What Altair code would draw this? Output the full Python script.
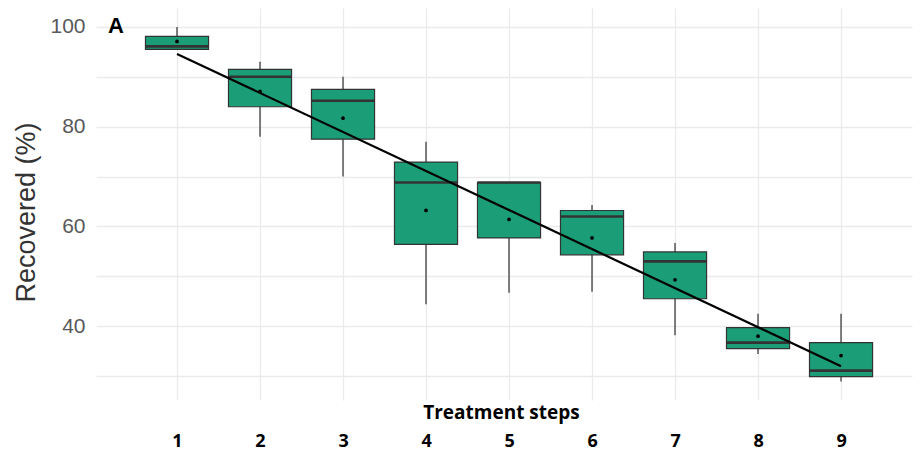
import altair as alt
import pandas as pd

steps = [1, 2, 3, 4, 5, 6, 7, 8, 9]
q1 = [95.5, 84.0, 77.5, 56.4, 57.7, 54.3, 45.5, 35.5, 29.9]
median = [96.1, 90.0, 85.2, 68.8, 68.8, 62.0, 53.0, 36.7, 31.1]
q3 = [98.1, 91.5, 87.5, 72.9, 68.8, 63.2, 54.9, 39.7, 36.7]
whisk_lo = [95.5, 78.0, 70.0, 44.4, 46.7, 46.9, 38.2, 34.4, 28.9]
whisk_hi = [100.0, 93.0, 90.0, 77.0, 68.8, 64.3, 56.7, 42.5, 42.5]
means = [97.1, 87.1, 81.7, 63.2, 61.4, 57.7, 49.3, 38.0, 34.1]

df = pd.DataFrame({
    "step": steps, "q1": q1, "median": median, "q3": q3,
    "lo": whisk_lo, "hi": whisk_hi, "mean": means,
})

HALF = 0.38
GREEN = "#1b9e77"
GRID = "#ebebeb"

x_scale = alt.Scale(domain=[0.024, 9.855], nice=False, zero=False)
y_scale = alt.Scale(domain=[25.2, 103.8], nice=False, zero=False)

x_axis = alt.Axis(
    title="Treatment steps", values=steps, grid=True, gridColor=GRID, gridWidth=1.3,
    domain=False, ticks=False, labelFont="Open Sans", labelFontWeight="bold",
    labelFontSize=18, labelColor="black", labelPadding=46, labelBaseline="alphabetic",
    titleFont="Open Sans", titleFontWeight="bold", titleFontSize=19, titleColor="black",
    titleY=12, titleBaseline="middle", titleX=405,
)
y_axis = alt.Axis(
    title="Recovered (%)", values=[30, 40, 50, 60, 70, 80, 90, 100],
    labelExpr="datum.value % 20 == 0 ? datum.label : ''",
    grid=True, gridColor=GRID, gridWidth=1.3, domain=False, ticks=False,
    labelFont="Liberation Sans", labelFontSize=21, labelColor="#595959", labelPadding=11,
    titleFont="Liberation Sans", titleFontSize=27, titleColor="#333333", titleFontWeight="normal",
    titleAngle=-90, titleX=-70, titleY=204, titleAlign="center", titleBaseline="middle",
)

base = alt.Chart(df).transform_calculate(
    x_lo=f"datum.step - {HALF}", x_hi=f"datum.step + {HALF}"
)

whiskers = base.mark_rule(color="#555555", strokeWidth=1.5).encode(
    x=alt.X("step:Q", scale=x_scale, axis=x_axis),
    y=alt.Y("lo:Q", scale=y_scale, axis=y_axis),
    y2="hi:Q",
)
boxes = base.mark_rect(fill=GREEN, stroke="#333333", strokeWidth=1.2).encode(
    x=alt.X("x_lo:Q", scale=x_scale, axis=x_axis),
    x2="x_hi:Q",
    y=alt.Y("q1:Q", scale=y_scale, axis=y_axis),
    y2="q3:Q",
)
medians = base.mark_rule(color="#333333", strokeWidth=2.6).encode(
    x=alt.X("x_lo:Q", scale=x_scale, axis=x_axis),
    x2="x_hi:Q",
    y=alt.Y("median:Q", scale=y_scale, axis=y_axis),
)
fit = alt.Chart(df).transform_regression("step", "mean").mark_line(
    color="black", strokeWidth=2.2
).encode(
    x=alt.X("step:Q", scale=x_scale, axis=x_axis),
    y=alt.Y("mean:Q", scale=y_scale, axis=y_axis),
)
points = alt.Chart(df).mark_point(filled=True, color="black", size=14, opacity=1).encode(
    x=alt.X("step:Q", scale=x_scale, axis=x_axis),
    y=alt.Y("mean:Q", scale=y_scale, axis=y_axis),
)

chart = alt.layer(whiskers, boxes, medians, fit, points).properties(
    width=816, height=392,
    title=alt.TitleParams(
        "A", anchor="start", frame="group", font="Liberation Sans", fontSize=22,
        fontWeight="bold", color="black", dx=12, dy=30, offset=0,
    ),
    autosize=alt.AutoSizeParams(type="none"),
    padding={"left": 88, "top": 0, "right": 3, "bottom": 53},
).configure_view(stroke=None)

chart.save("out.html", embed_options={"renderer": "svg", "actions": False})
